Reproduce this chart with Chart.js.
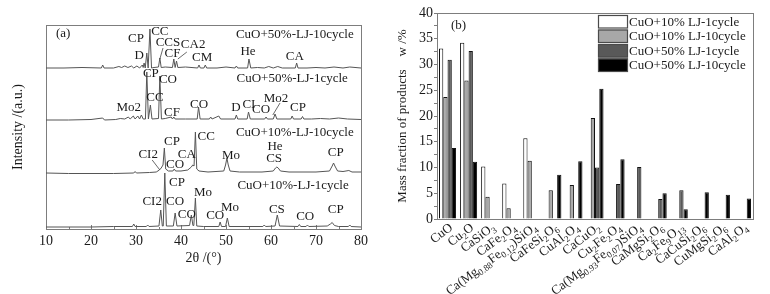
<!DOCTYPE html>
<html>
<head>
<meta charset="utf-8">
<script src="https://cdn.jsdelivr.net/npm/chart.js@4.4.1/dist/chart.umd.min.js"></script>
<style>
html, body { margin: 0; padding: 0; background: #fff; }
#wrap { position: relative; width: 770px; height: 294px; overflow: hidden; }
#xrd { position: absolute; left: 0; top: 0; }
#mass { position: absolute; left: 390px; top: 0; }
</style>
</head>
<body>
<div id="wrap">
  <canvas id="xrd" width="390" height="294"></canvas>
  <canvas id="mass" width="380" height="294"></canvas>
</div>
<script>
// ---- panel (a): XRD patterns, [2theta, intensity (a.u., stacked)] ----
const xrd50pct10cycle = [
  [10,161],[14,161],[18,161.5],[22.3,161],[22.6,164],[22.9,161],[25,161],[26.2,162.5],[26.8,161.5],
  [27.5,163],[28.2,161.5],[29,163],[29.5,161],[30.2,163],[30.8,161],[31.4,164],[31.6,161.5],[31.8,166],
  [32.05,161],[32.4,176],[32.7,161],[33.1,200],[33.45,161],[34,161.5],[35,162],[35.3,171],[35.6,161.5],
  [36.5,162],[38.1,161.5],[38.4,170],[38.7,161.5],[39,168],[39.3,161.5],[41,162],[43.7,161],[44,164],
  [44.3,161],[45.1,161],[45.4,164],[45.7,161],[48,161],[50,162],[52,161],[52.3,163],[52.6,161],[54.8,161],
  [55.1,170],[55.5,161],[57,161.5],[58.5,161],[59.5,162.5],[60.5,161],[61.5,162.5],[62.5,161],[65.4,161],
  [65.7,166],[66,161],[68,161],[70,161.5],[72,161],[74,162],[76,161],[77.5,162],[80,161]
];
const xrd50pct1cycle = [
  [10,109],[15,109],[20,109.5],[22.6,111],[23,109],[25.5,109.5],[26.5,110.5],[27.5,110],[28.3,112],
  [28.7,110],[29.4,113],[29.8,110],[30.4,113],[30.8,110],[31.2,114],[31.6,110],[32.1,110],[32.4,157],
  [32.75,110],[33.2,124],[33.55,110],[35,110.5],[35.3,153],[35.65,110],[36.5,110.5],[37.8,112],[38.1,110],
  [38.4,112],[38.7,110],[41,110],[43.6,110],[43.9,122],[44.25,110],[46.3,110],[46.6,112],[46.9,110],
  [48.4,113],[48.8,110],[52,110],[52.3,114],[52.6,110],[54.7,110],[55,117],[55.4,110],[58.6,110],
  [58.9,112],[59.2,110],[60.5,110],[60.9,115],[61.3,110],[64.4,110],[64.7,113],[65,110],[66.7,110],
  [67,112.5],[67.3,110],[69,110],[71,110.5],[73,110],[75,111],[77,110],[80,109.5]
];
const xrd10pct10cycle = [
  [10,56],[15,55.5],[25,55.5],[29.5,56],[29.8,57.5],[30.1,56],[33,56.5],[34.5,57],[35.2,59],[35.6,61],
  [36,64],[36.3,81],[36.6,60],[37.2,58],[38.2,58],[38.5,60],[38.8,58],[40,58],[41.5,59],[42.3,62],
  [42.6,64],[42.9,63],[43.2,97],[43.5,60],[44,58],[46,57],[49.5,58],[49.9,64],[50.2,71],[50.5,64],
  [50.9,58],[53,57],[58,57],[60.5,58],[61,61],[61.3,62],[61.6,61],[62.1,58],[64,57],[70,57],[73,58],
  [73.6,63],[73.9,66],[74.2,63],[74.8,58],[76,57.5],[77.3,58.5],[78,57],[80,57]
];
const xrd10pct1cycle = [
  [10,2],[20,2],[25,2.5],[29.2,2.5],[29.5,5],[29.8,2.5],[32.3,2.5],[32.6,4],[32.9,2.5],[35.1,3],[35.5,19],
  [35.85,3],[36.05,3],[36.4,56],[36.75,3],[38.3,3],[38.7,16],[39.1,3],[41.9,3.5],[42.3,14],[42.65,3.5],
  [42.85,3.5],[43.2,31],[43.5,3],[45,2.5],[48.4,2.5],[48.7,7],[49,2.5],[49.9,2.5],[50.3,11],[50.7,2.5],
  [58.2,2.5],[58.5,4],[58.8,2.5],[60.9,3],[61.4,14],[61.9,3],[66,2.5],[66.3,4.5],[66.6,2.5],[67.8,2.5],
  [68.1,4],[68.4,2.5],[72.5,3],[73.2,5],[73.6,6.5],[74.1,3.5],[75,2.5],[77.2,2.5],[77.5,4],[77.8,2.5],[80,2]
];

// phase labels: text, 2theta, level
const peakLabels = [
  ['(a)',13.8,195],['CuO+50%-LJ-10cycle',65.3,194],['CP',30.0,190],['CC',35.3,197],['CCS',37.1,186],
  ['CA2',42.7,184],['D',30.7,173],['CF',38.1,175],['CM',44.7,171],['He',54.9,177],['CA',65.3,172],
  ['CuO+50%-LJ-1cycle',64.7,150],['CP',33.3,155],['CO',37.1,149],['CC',34.2,131],['Mo2',28.4,121],
  ['CF',38.0,116],['CO',44.0,124],['D',52.2,121],['CI',55.1,124],['CO',57.8,119],['Mo2',61.1,130],['CP',66.0,121],
  ['CuO+10%-LJ-10cycle',65.3,96],['CP',38.0,87],['CC',45.6,92],['He',60.9,82],['CP',74.4,76],['CI2',32.7,74],
  ['CA',41.3,74],['Mo',51.1,73],['CS',60.7,70],['CO',38.7,64],
  ['CuO+10%-LJ-1cycle',64.9,43],['CP',39.1,46],['Mo',44.9,36],['CI2',33.6,27],['CO',38.7,27],['CO',41.3,14],
  ['Mo',50.9,21],['CO',47.6,13],['CS',61.3,19],['CO',67.6,12],['CP',74.4,19]
];
const leaderLines = [
  [36.0,181,35.3,170],[41.3,177,39.3,170],[62.0,126,60.4,114],[33.6,69,35.3,59]
];

// ---- panel (b): mass fraction of products, w /% ----
const products = [
  'CuO','Cu_{2}O','CaSiO_{3}','CaFe_{2}O_{4}','Ca(Mg_{0.88}Fe_{0.12})SiO_{4}','CaFeSi_{2}O_{6}',
  'CuAl_{2}O_{4}','CaCuO_{2}','Cu_{2}Fe_{2}O_{4}','Ca(Mg_{0.93}Fe_{0.07})SiO_{4}','CaMgSi_{2}O_{6}',
  'Ca_{2}Fe_{9}O_{13}','CaCuSi_{2}O_{6}','CuMgSi_{2}O_{6}','CaAl_{2}O_{4}'
];
const seriesNames = ['CuO+10% LJ-1cycle','CuO+10% LJ-10cycle','CuO+50% LJ-1cycle','CuO+50% LJ-10cycle'];
const lj10pct1cycle  = [33.1,34.2,10.2,6.9,15.7,null,null,null,null,null,null,null,null,null,null];
const lj10pct10cycle = [23.7,26.9,4.3,2.1,11.3,5.6,6.6,19.6,null,null,null,null,null,null,null];
const lj50pct1cycle  = [30.9,32.6,null,null,null,null,null,10.0,6.8,10.1,3.9,5.6,null,null,null];
const lj50pct10cycle = [13.8,11.1,null,null,null,8.6,11.2,25.3,11.6,null,5.0,1.9,5.2,4.7,4.0];
const massTicks = [0,5,10,15,20,25,30,35,40];

const SERIF = '"Liberation Serif", "Times New Roman", serif';
const INK = '#1a1a1a';
const FRAME = '#7d7d7d';
const barFills = ['#ffffff','#a8a8a8','#595959','#000000'];

Chart.defaults.font.family = SERIF;
Chart.defaults.color = INK;

// frame, inward ticks and phase labels for panel (a)
const xrdDecor = {
  id: 'xrdDecor',
  beforeDatasetsDraw(chart) {
    const {ctx, chartArea: a, scales: {x}} = chart;
    ctx.save();
    ctx.strokeStyle = FRAME;
    ctx.lineWidth = 1;
    ctx.strokeRect(a.left + 0.5, a.top + 0.5, a.right - a.left, a.bottom - a.top);
    for (let t = 15; t < 80; t += 5) {
      const px = Math.round(x.getPixelForValue(t)) + 0.5;
      ctx.beginPath();
      ctx.moveTo(px, a.bottom);
      ctx.lineTo(px, a.bottom - (t % 10 ? 2 : 4));
      ctx.stroke();
    }
    ctx.restore();
  },
  afterDatasetsDraw(chart) {
    const {ctx, scales: {x, y}} = chart;
    ctx.save();
    ctx.fillStyle = INK;
    ctx.font = '13px ' + SERIF;
    ctx.textAlign = 'center';
    ctx.textBaseline = 'middle';
    peakLabels.forEach(([txt, t, v]) => ctx.fillText(txt, x.getPixelForValue(t), y.getPixelForValue(v)));
    ctx.strokeStyle = '#444';
    ctx.lineWidth = 0.8;
    leaderLines.forEach(([t1, v1, t2, v2]) => {
      ctx.beginPath();
      ctx.moveTo(x.getPixelForValue(t1), y.getPixelForValue(v1));
      ctx.lineTo(x.getPixelForValue(t2), y.getPixelForValue(v2));
      ctx.stroke();
    });
    ctx.restore();
  }
};

function toPoints(arr) { return arr.map(p => ({x: p[0], y: p[1]})); }
function trace(arr) {
  return { data: toPoints(arr), borderColor: '#555', borderWidth: 1, pointRadius: 0, tension: 0, fill: false };
}

new Chart(document.getElementById('xrd'), {
  type: 'line',
  data: { datasets: [trace(xrd50pct10cycle), trace(xrd50pct1cycle), trace(xrd10pct10cycle), trace(xrd10pct1cycle)] },
  options: {
    responsive: false,
    animation: false,
    devicePixelRatio: 1,
    layout: { padding: { left: 0, right: 29, top: 25, bottom: 0 } },
    plugins: { legend: { display: false }, tooltip: { enabled: false } },
    scales: {
      x: {
        type: 'linear', min: 10, max: 80,
        grid: { display: false, drawTicks: false },
        border: { display: false },
        ticks: { stepSize: 10, padding: 4, font: { size: 14 }, color: INK },
        title: { display: true, text: '2θ /(°)', font: { size: 14 }, padding: { top: 0, bottom: 27 }, color: INK },
        afterFit: s => { s.height = 65; }
      },
      y: {
        min: 0, max: 204,
        grid: { display: false, drawTicks: false },
        border: { display: false },
        ticks: { display: false },
        title: { display: true, text: 'Intensity /(a.u.)', font: { size: 14 }, padding: { top: 10, bottom: 0 }, color: INK },
        afterFit: s => { s.width = 46; }
      }
    }
  },
  plugins: [xrdDecor]
});

// split "Cu_{2}O" into normal / subscript runs
function chemRuns(str) {
  const runs = [];
  const re = /_\{([^}]*)\}/g;
  let last = 0, m;
  while ((m = re.exec(str))) {
    if (m.index > last) runs.push({t: str.slice(last, m.index), sub: false});
    runs.push({t: m[1], sub: true});
    last = re.lastIndex;
  }
  if (last < str.length) runs.push({t: str.slice(last), sub: false});
  return runs;
}

const massDecor = {
  id: 'massDecor',
  afterDatasetsDraw(chart) {
    const {ctx, chartArea: a, scales: {x}} = chart;
    ctx.save();
    ctx.strokeStyle = FRAME;
    ctx.lineWidth = 1;
    ctx.strokeRect(a.left + 0.5, a.top + 0.5, a.right - a.left, a.bottom - a.top);

    ctx.fillStyle = INK;
    ctx.textBaseline = 'middle';
    ctx.textAlign = 'left';
    ctx.font = '13px ' + SERIF;
    ctx.fillText('(b)', a.left + 14, a.top + 13);

    // legend
    chart.data.datasets.forEach((ds, i) => {
      const bx = a.left + 161, by = a.top + 2 + i * 14.5;
      ctx.fillStyle = ds.backgroundColor;
      ctx.fillRect(bx, by, 30, 13.5);
      ctx.strokeStyle = '#4a4a4a';
      ctx.lineWidth = 1.2;
      ctx.strokeRect(bx + 0.5, by + 0.5, 29, 12.5);
      ctx.fillStyle = INK;
      ctx.fillText(ds.label, bx + 31, by + 7.5);
    });

    // rotated product names with subscripts, right end near the tick
    const ang = 37 * Math.PI / 180;
    products.forEach((name, i) => {
      const runs = chemRuns(name);
      let w = 0;
      runs.forEach(r => {
        ctx.font = (r.sub ? '9px ' : '13px ') + SERIF;
        r.w = ctx.measureText(r.t).width;
        w += r.w;
      });
      const ex = x.getPixelForValue(i) + 6;
      const ey = a.bottom + 10;
      ctx.save();
      ctx.translate(ex, ey);
      ctx.rotate(-ang);
      ctx.textBaseline = 'alphabetic';
      let cx = -w;
      runs.forEach(r => {
        ctx.font = (r.sub ? '9px ' : '13px ') + SERIF;
        ctx.fillText(r.t, cx, r.sub ? 3 : 0);
        cx += r.w;
      });
      ctx.restore();
    });
    ctx.restore();
  }
};

function bars(label, values, i) {
  return {
    label: label, data: values, backgroundColor: barFills[i],
    borderColor: '#111', borderWidth: 1, borderSkipped: 'start',
    categoryPercentage: 0.81, barPercentage: 1.0
  };
}

new Chart(document.getElementById('mass'), {
  type: 'bar',
  data: {
    labels: products,
    datasets: [
      bars(seriesNames[0], lj10pct1cycle, 0),
      bars(seriesNames[1], lj10pct10cycle, 1),
      bars(seriesNames[2], lj50pct1cycle, 2),
      bars(seriesNames[3], lj50pct10cycle, 3)
    ]
  },
  options: {
    responsive: false,
    animation: false,
    devicePixelRatio: 1,
    layout: { padding: { left: 0, right: 17, top: 13, bottom: 0 } },
    plugins: { legend: { display: false }, tooltip: { enabled: false } },
    scales: {
      x: {
        grid: { display: false, drawTicks: false },
        border: { display: false },
        ticks: { display: false },
        afterFit: s => { s.height = 75; }
      },
      y: {
        min: 0, max: 40,
        grid: { drawOnChartArea: false, tickLength: 3, color: FRAME },
        border: { display: false },
        afterBuildTicks: s => { s.ticks = []; for (let v = 0; v <= 40; v += 2.5) s.ticks.push({value: v}); },
        ticks: {
          autoSkip: false, padding: 1, font: { size: 14 }, color: INK,
          callback: v => (massTicks.includes(v) ? String(v) : '')
        },
        title: { display: true, text: 'Mass fraction of products    w /%', font: { size: 13 }, padding: { top: 5, bottom: 0 }, color: INK },
        afterFit: s => { s.width = 47; }
      }
    }
  },
  plugins: [massDecor]
});
</script>
</body>
</html>
